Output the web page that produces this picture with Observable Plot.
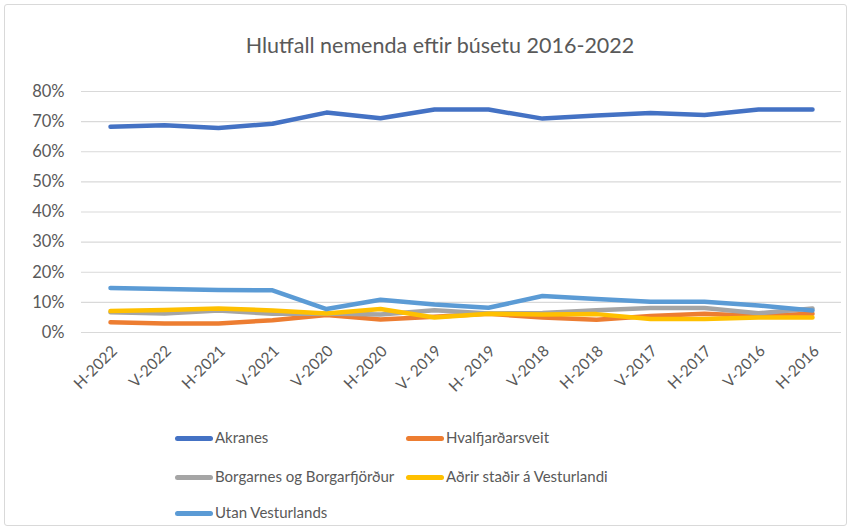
<!DOCTYPE html>
<html>
<head>
<meta charset="utf-8">
<script src="https://cdn.jsdelivr.net/npm/d3@7"></script>
<script src="https://cdn.jsdelivr.net/npm/@observablehq/plot@0.6"></script>
<style>
  html, body { margin: 0; padding: 0; background: #fff; }
  #wrap { position: relative; width: 853px; height: 532px; overflow: hidden; font-family: Lato, "Open Sans", sans-serif; color: #595959; }
  #frame { position: absolute; left: 4px; top: 4px; width: 843px; height: 522px; border: 1px solid #d9d9d9; border-radius: 3px; box-sizing: border-box; }
  #title { position: absolute; left: 0; width: 880px; top: 32px; text-align: center; font-size: 21.5px; color: #595959; }
  #chart { position: absolute; left: 0; top: 0; }
  .lg { position: absolute; font-size: 15px; color: #595959; white-space: nowrap; line-height: 18px; }
  .lg .sw { display: inline-block; width: 38px; height: 5px; border-radius: 3px; vertical-align: middle; margin-right: 2px; position: relative; top: -1px; }
</style>
</head>
<body>
<div id="wrap">
  <div id="frame"></div>
  <div id="chart"></div>
  <div id="title">Hlutfall nemenda eftir búsetu 2016-2022</div>
  <div id="legend"></div>
</div>
<script>
const terms = ["H-2022","V-2022","H-2021","V-2021","V-2020","H-2020","V- 2019","H- 2019","V-2018","H-2018","V-2017","H-2017","V-2016","H-2016"];
const seriesNames = ["Akranes","Hvalfjarðarsveit","Borgarnes og Borgarfjörður","Aðrir staðir á Vesturlandi","Utan Vesturlands"];
const seriesColors = ["#4472C4","#ED7D31","#A5A5A5","#FFC000","#5B9BD5"];
const akranes    = [0.683,0.688,0.679,0.693,0.730,0.711,0.740,0.740,0.710,0.720,0.729,0.722,0.740,0.740];
const hvalfj     = [0.034,0.030,0.030,0.041,0.058,0.043,0.052,0.062,0.050,0.042,0.055,0.062,0.055,0.062];
const borgarnes  = [0.067,0.063,0.073,0.062,0.063,0.060,0.074,0.063,0.065,0.074,0.081,0.081,0.064,0.080];
const adrir      = [0.071,0.075,0.080,0.073,0.063,0.078,0.050,0.062,0.060,0.061,0.045,0.045,0.050,0.050];
const utan       = [0.148,0.144,0.141,0.140,0.078,0.109,0.093,0.082,0.121,0.111,0.102,0.102,0.090,0.073];
const yTicks = [0,0.1,0.2,0.3,0.4,0.5,0.6,0.7,0.8];

const allSeries = [akranes, hvalfj, borgarnes, adrir, utan];
const data = [];
allSeries.forEach((vals, si) => vals.forEach((v, i) => data.push({term: terms[i], series: seriesNames[si], value: v})));

const chart = Plot.plot({
  width: 853,
  height: 410,
  marginTop: 91,
  marginBottom: 78,
  marginLeft: 81,
  marginRight: 12,
  style: {fontFamily: "Lato, 'Open Sans', sans-serif", color: "#595959", background: "transparent"},
  x: {type: "point", domain: terms, padding: 0.5, label: null},
  y: {domain: [0, 0.8], label: null},
  color: {domain: seriesNames, range: seriesColors},
  marks: [
    Plot.ruleY(yTicks, {stroke: "#d9d9d9", strokeWidth: 1.2}),
    Plot.axisY({ticks: yTicks, tickFormat: d3.format(".0%"), tickSize: 0, tickPadding: 17, fontSize: 16.5, label: null, style: {letterSpacing: "1px"}}),
    Plot.axisX({tickSize: 0, tickRotate: -45, tickPadding: 16, fontSize: 15.5, label: null, dx: 4}),
    Plot.line(data, {x: "term", y: "value", z: "series", stroke: "series", strokeWidth: 4.5, strokeLinecap: "round", strokeLinejoin: "round"})
  ]
});
document.getElementById("chart").appendChild(chart);

const legendPos = [[175,428],[406,428],[175,467],[406,467],[175,503]];
const lg = document.getElementById("legend");
seriesNames.forEach((name, i) => {
  const d = document.createElement("div");
  d.className = "lg";
  d.style.left = legendPos[i][0] + "px";
  d.style.top = legendPos[i][1] + "px";
  d.innerHTML = `<span class="sw" style="background:${seriesColors[i]}"></span>${name}`;
  lg.appendChild(d);
});
</script>
</body>
</html>
